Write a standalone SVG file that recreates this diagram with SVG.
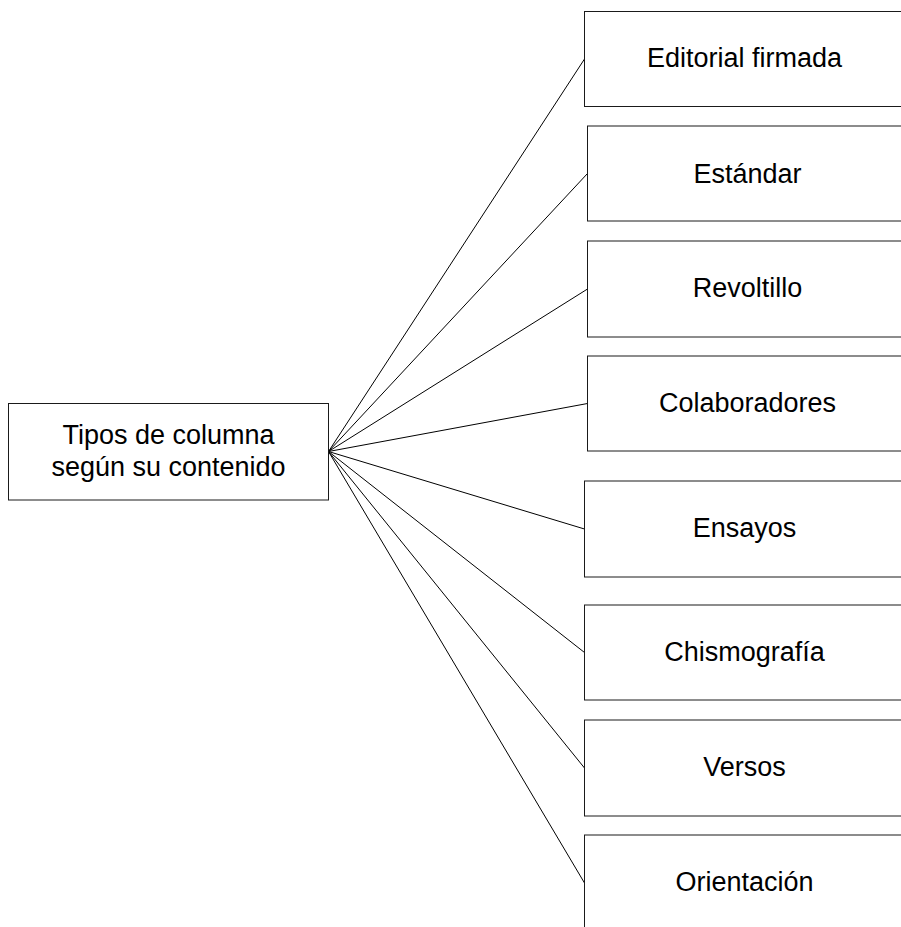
<svg xmlns="http://www.w3.org/2000/svg" width="901" height="927" viewBox="0 0 901 927">
<style>
.box{fill:#fff;stroke:#1a1a1a;stroke-width:1}
.lbl{font-family:"Liberation Sans",Arial,sans-serif;font-size:27px;fill:#000;text-anchor:middle}
.conn line{stroke:#000;stroke-width:1}
</style>
<rect width="901" height="927" fill="#fff"/>
<g id="connectors" class="conn">
<line x1="328.5" y1="451.5" x2="584.5" y2="59"/>
<line x1="328.5" y1="451.5" x2="587.5" y2="173.5"/>
<line x1="328.5" y1="451.5" x2="587.5" y2="289"/>
<line x1="328.5" y1="451.5" x2="587.5" y2="403.5"/>
<line x1="328.5" y1="451.5" x2="584.5" y2="529"/>
<line x1="328.5" y1="451.5" x2="584.5" y2="652.5"/>
<line x1="328.5" y1="451.5" x2="584.5" y2="768"/>
<line x1="328.5" y1="451.5" x2="584.5" y2="883"/>
</g>
<g id="root">
<rect class="box" x="8.5" y="403.5" width="320" height="96.5"/>
<text class="lbl" x="168.5" y="444">Tipos de columna</text>
<text class="lbl" x="168.5" y="476">según su contenido</text>
</g>
<g id="n1">
<rect class="box" x="584.5" y="11.5" width="320" height="95"/>
<text class="lbl" x="744.5" y="67">Editorial firmada</text>
</g>
<g id="n2">
<rect class="box" x="587.5" y="126" width="320" height="95"/>
<text class="lbl" x="747.5" y="182.5">Estándar</text>
</g>
<g id="n3">
<rect class="box" x="587.5" y="241" width="320" height="96"/>
<text class="lbl" x="747.5" y="297">Revoltillo</text>
</g>
<g id="n4">
<rect class="box" x="587.5" y="356" width="320" height="95"/>
<text class="lbl" x="747.5" y="412">Colaboradores</text>
</g>
<g id="n5">
<rect class="box" x="584.5" y="481" width="320" height="96"/>
<text class="lbl" x="744.5" y="537">Ensayos</text>
</g>
<g id="n6">
<rect class="box" x="584.5" y="605" width="320" height="95"/>
<text class="lbl" x="744.5" y="661">Chismografía</text>
</g>
<g id="n7">
<rect class="box" x="584.5" y="720" width="320" height="96"/>
<text class="lbl" x="744.5" y="776">Versos</text>
</g>
<g id="n8">
<rect class="box" x="584.5" y="835" width="320" height="96"/>
<text class="lbl" x="744.5" y="890.5">Orientación</text>
</g>
</svg>
